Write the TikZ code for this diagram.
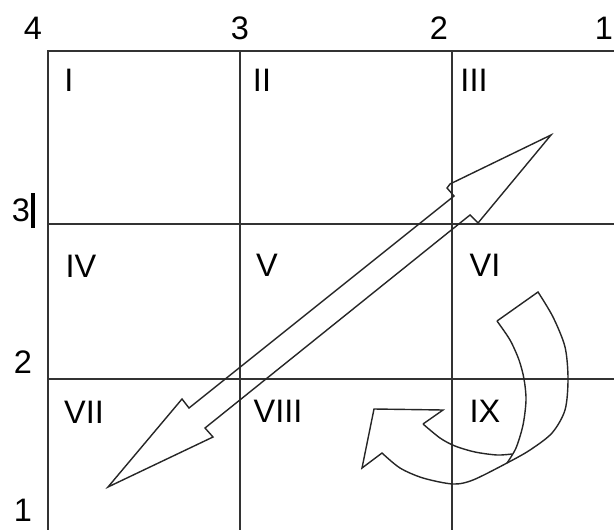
\documentclass[tikz,border=0pt]{standalone}
\usepackage{fontspec}
\setmainfont{Liberation Sans}
\begin{document}
\begin{tikzpicture}[x=0.02cm,y=-0.02cm,
  gridline/.style={line width=1.1pt,black!80},
  outline/.style={line width=0.8pt,black!85,line join=miter},
  lbl/.style={inner sep=0pt,font=\fontsize{18.5}{20}\selectfont}]
  \useasboundingbox (0,0) rectangle (614,530);
  % the 3x3 grid, open at the right and bottom
  \draw[gridline] (614,51) -- (48,51) -- (48,530);
  \draw[gridline] (240,51) -- (240,530);
  \draw[gridline] (452,51) -- (452,530);
  \draw[gridline] (48,224) -- (614,224);
  \draw[gridline] (48,379) -- (614,379);
  % numbers along the top and the left side
  \foreach \name/\txt/\x/\y in {t4/4/33/28, t3/3/240/28, t2/2/439/28, t1/1/604/28,
                                l3/3/21/210, l2/2/23/362, l1/1/23/510}
    \node[lbl] (\name) at (\x,\y) {\txt};
  \draw[line width=1.8pt] (33,193) -- (33,228);
  % cell numbers
  \foreach \name/\txt/\x/\y in {c1/I/69/80, c2/II/262/80, c3/III/474/80,
                                c4/IV/81/266, c5/V/267/265, c6/VI/485/265,
                                c7/VII/84/412, c8/VIII/278/411, c9/IX/485/411}
    \node[lbl] (\name) at (\x,\y) {\txt};
  % straight double arrow
  \draw[outline] (551,135) -- (478,223) -- (470,215) -- (205,428) -- (213,437)
    -- (108,487) -- (182,399) -- (189,408) -- (454,196) -- (447,188)
    -- (450,184) -- cycle;
  % curved arrow: outer edge with head
  \draw[outline] (497,321) -- plot[smooth] coordinates {(538,292) (553,317)
    (565,347) (568,379) (565,410) (552,433) (530,450) (507,463) (473,480)
    (453,484) (423,478) (400,468) (382,453)}
    -- (362,468) -- (374,409) -- (443,410) -- (423,424);
  % inner edges
  \draw[outline] plot[smooth] coordinates {(423,424) (440,438) (455,446)
    (475,452) (497,455) (512,454)};
  \draw[outline] plot[smooth] coordinates {(497,321) (510,340) (519,360)
    (524,379) (526,400) (523,425) (516,448) (507,463)};
\end{tikzpicture}
\end{document}
